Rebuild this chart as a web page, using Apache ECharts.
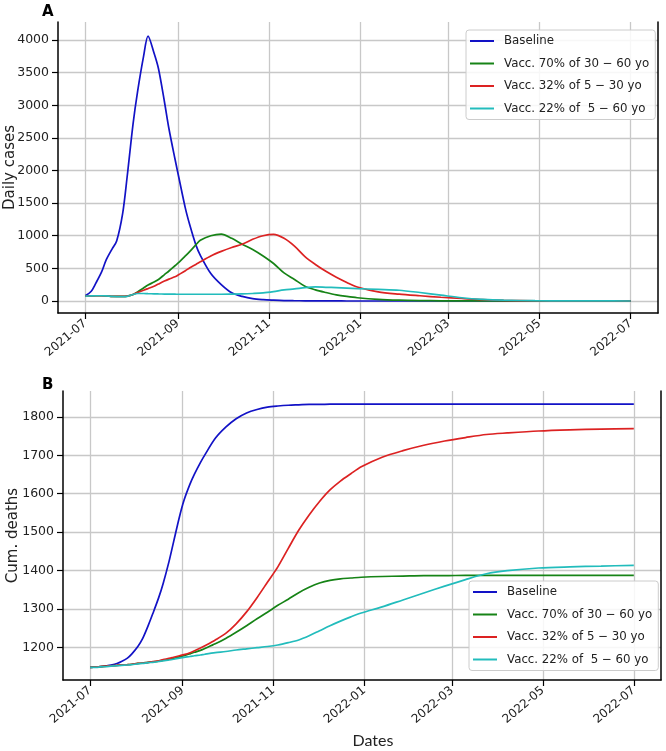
<!DOCTYPE html>
<html>
<head>
<meta charset="utf-8">
<script src="https://cdn.jsdelivr.net/npm/echarts@6/dist/echarts.min.js"></script>
<style>
html,body{margin:0;padding:0;background:#fff;}
#chart{width:666px;height:751px;}
</style>
</head>
<body>
<div id="chart"></div>
<script>
// ---------- data ----------
const dates = [
  '2021-07-01','2021-07-05','2021-07-08','2021-07-12','2021-07-15','2021-07-19','2021-07-22','2021-07-26','2021-07-29',
  '2021-08-02','2021-08-05','2021-08-09','2021-08-12','2021-08-16','2021-08-19','2021-08-23','2021-08-26','2021-08-30',
  '2021-09-02','2021-09-06','2021-09-09','2021-09-13','2021-09-16','2021-09-23','2021-09-30',
  '2021-10-07','2021-10-14','2021-10-21','2021-10-28','2021-11-04','2021-11-11','2021-11-18','2021-11-25',
  '2021-12-02','2021-12-09','2021-12-16','2021-12-23','2021-12-30',
  '2022-01-13','2022-01-27','2022-02-10','2022-02-24','2022-03-10','2022-03-24','2022-04-07','2022-04-28',
  '2022-05-19','2022-06-09','2022-07-01'
];
const seriesNames = ['Baseline','Vacc. 70% of 30 \u2212 60 yo','Vacc. 32% of 5 \u2212 30 yo','Vacc. 22% of  5 \u2212 60 yo'];

const dailyBaseline = [80,150,270,450,630,800,920,1340,1900,2720,3210,3750,4060,3800,3560,3050,2640,2180,
  1850,1420,1160,860,700,420,250,125,70,35,20,12,6,4,3,2,1,1,0,0,0,0,0,0,0,0,0,0,0,0,0];
const dailyVacc30_60 = [75,78,80,80,78,72,70,70,75,100,140,200,245,290,330,405,460,540,
  600,690,760,860,930,1000,1025,960,870,790,690,575,430,330,225,170,130,95,70,50,25,12,6,3,2,1,0,0,0,0,0];
const dailyVacc5_30 = [75,78,80,80,78,72,70,70,75,100,130,165,190,225,260,305,335,370,
  410,465,510,560,600,690,760,820,870,945,1000,1020,960,840,680,560,455,365,285,215,140,105,80,57,38,20,10,4,2,1,0];
const dailyVacc5_60 = [75,78,80,80,78,70,68,68,72,100,115,115,112,110,108,106,105,104,
  103,103,103,103,103,103,103,105,108,115,125,145,170,185,205,215,210,205,198,190,178,165,130,90,50,25,12,5,2,1,0];

const deathsBaseline = [1149,1150,1151,1153,1155,1159,1164,1173,1184,1203,1222,1258,1288,1330,1367,1425,1475,1541,
  1583,1625,1651,1681,1701,1744,1773,1795,1810,1819,1825,1828,1830,1831,1832,1832,1833,1833,1833,1833,1833,1833,1833,1833,1833,1833,1833,1833,1833,1833,1833];
const deathsVacc30_60 = [1149,1150,1151,1152,1153,1154,1155,1156,1157,1159,1160,1162,1163,1165,1167,1170,1172,1176,
  1179,1184,1188,1193,1198,1210,1224,1240,1257,1275,1292,1310,1326,1343,1357,1368,1375,1379,1381,1383,1385,1386,1387,1387,1388,1388,1388,1388,1388,1388,1388];
const deathsVacc5_30 = [1149,1150,1151,1152,1153,1154,1155,1156,1157,1159,1160,1162,1164,1166,1169,1172,1175,1179,
  1182,1187,1192,1199,1205,1220,1237,1262,1293,1330,1370,1410,1458,1505,1545,1580,1610,1633,1652,1670,1695,1712,1726,1737,1746,1754,1758,1763,1766,1768,1769];
const deathsVacc5_60 = [1149,1149,1150,1151,1152,1153,1154,1155,1156,1158,1159,1161,1162,1164,1166,1168,1170,1173,
  1175,1177,1179,1181,1183,1187,1190,1194,1197,1200,1203,1207,1213,1220,1231,1244,1257,1269,1280,1290,1306,1324,1342,1360,1377,1392,1400,1407,1410,1412,1414];

const xTickLabels = ['2021-07','2021-09','2021-11','2022-01','2022-03','2022-05','2022-07'];
const dailyTicks = [0,500,1000,1500,2000,2500,3000,3500,4000];
const deathTicks = [1200,1300,1400,1500,1600,1700,1800];

// ---------- helpers ----------
const colors = ['#1212c6','#168316','#dc2222','#22bcbc'];
const DAY = 86400000;
function toUTC(s){ const p = s.split('-').map(Number); return Date.UTC(p[0], p[1]-1, p[2] || 1); }
const origin = toUTC('2021-07-01');
function dayOf(s){ return Math.round((toUTC(s) - origin) / DAY); }
const xStartDay = dayOf('2021-07-01'), xEndDay = dayOf('2022-07-01');
const xPad = (xEndDay - xStartDay) * 0.05;
const xTickValues = xTickLabels.map(dayOf);
function fmtDay(v){
  const i = xTickValues.indexOf(Math.round(v));
  if (i >= 0) return xTickLabels[i];
  const d = new Date(origin + v * DAY);
  return d.getUTCFullYear() + '-' + String(d.getUTCMonth()+1).padStart(2,'0');
}
function pairs(vals){ return dates.map((d,i)=>[dayOf(d), vals[i]]); }

const txt = '#222222';
const font = 'DejaVu Sans';

function xAxisCfg(gridIndex, name){
  return {
    type:'value', gridIndex, min: xStartDay - xPad, max: xEndDay + xPad,
    name: name || '', nameLocation:'middle', nameGap: 53,
    nameTextStyle:{ fontFamily:'Lato', fontSize:16, color:txt, padding:[0,0,0,22] },
    axisLine:{ show:true, onZero:false, lineStyle:{ color:'#000', width:1.5 } },
    axisTick:{ show:true, length:6, inside:false, customValues: xTickValues, lineStyle:{ color:'#000', width:1.2 } },
    axisLabel:{ show:true, customValues: xTickValues, formatter: fmtDay, rotate:40, margin:9,
      fontFamily:font, fontSize:12, color:txt, hideOverlap:false, showMinLabel:true, showMaxLabel:true },
    splitLine:{ show:true, lineStyle:{ color:'#c8c8c8', width:1.3 } }
  };
}
function yAxisCfg(gridIndex, min, max, ticks, name, gap){
  return {
    type:'value', gridIndex, min, max, position:'left',
    name, nameLocation:'middle', nameGap: gap, nameRotate:90, nameMoveOverlap:false,
    nameTextStyle:{ fontFamily:font, fontSize:15, color:txt },
    axisLine:{ show:true, onZero:false, lineStyle:{ color:'#000', width:1.5 } },
    axisTick:{ show:true, length:6, customValues: ticks, lineStyle:{ color:'#000', width:1.2 } },
    axisLabel:{ show:true, customValues: ticks, formatter: v => String(Math.round(v)), margin:9,
      fontFamily:font, fontSize:12.5, color:txt },
    splitLine:{ show:true, lineStyle:{ color:'#c8c8c8', width:1.3 } }
  };
}
function rightSpine(gridIndex){
  return { type:'value', gridIndex, position:'right', min:0, max:1,
    axisLine:{ show:true, onZero:false, lineStyle:{ color:'#000', width:1.5 } },
    axisTick:{show:false}, axisLabel:{show:false}, splitLine:{show:false} };
}
function lineSeries(name, vals, color, xi, yi){
  return { type:'line', name, data: pairs(vals), xAxisIndex:xi, yAxisIndex:yi,
    showSymbol:false, symbol:'none', smooth:0.3,
    lineStyle:{ color, width:1.7 }, itemStyle:{ color }, emphasis:{disabled:true} };
}
function legendCfg(left, top){
  return {
    orient:'vertical', left, top, icon:'rect', itemWidth:24, itemHeight:2, itemGap:8.5,
    padding:[4,6,4,4], backgroundColor:'rgba(255,255,255,0.85)', borderColor:'#cccccc', borderWidth:1, borderRadius:3,
    textStyle:{ fontFamily:font, fontSize:11.8, color:txt, lineHeight:14, padding:[0,0,0,5] },
    data: seriesNames, selectedMode:false
  };
}

const option = {
  animation:false,
  backgroundColor:'#ffffff',
  title:[
    { text:'A', left:37, top:0, textStyle:{ fontFamily:font, fontWeight:'bold', fontSize:15, color:'#000' } },
    { text:'B', left:37, top:373, textStyle:{ fontFamily:font, fontWeight:'bold', fontSize:15, color:'#000' } }
  ],
  legend:[ legendCfg(466, 30), legendCfg(469, 581) ],
  grid:[
    { left:58, right:8, top:22, height:291, containLabel:false, outerBoundsMode:'none' },
    { left:63, right:5, top:391, height:289, containLabel:false, outerBoundsMode:'none' }
  ],
  xAxis:[ xAxisCfg(0), xAxisCfg(1, 'Dates') ],
  yAxis:[
    yAxisCfg(0, -184, 4276, dailyTicks, 'Daily cases', 40),
    rightSpine(0),
    yAxisCfg(1, 1116, 1867, deathTicks, 'Cum. deaths', 42),
    rightSpine(1)
  ],
  series:[
    lineSeries(seriesNames[0], dailyBaseline, colors[0], 0, 0),
    lineSeries(seriesNames[1], dailyVacc30_60, colors[1], 0, 0),
    lineSeries(seriesNames[2], dailyVacc5_30, colors[2], 0, 0),
    lineSeries(seriesNames[3], dailyVacc5_60, colors[3], 0, 0),
    lineSeries(seriesNames[0], deathsBaseline, colors[0], 1, 2),
    lineSeries(seriesNames[1], deathsVacc30_60, colors[1], 1, 2),
    lineSeries(seriesNames[2], deathsVacc5_30, colors[2], 1, 2),
    lineSeries(seriesNames[3], deathsVacc5_60, colors[3], 1, 2)
  ]
};
const chart = echarts.init(document.getElementById('chart'), null, { renderer:'canvas' });
chart.setOption(option);
</script>
</body>
</html>
